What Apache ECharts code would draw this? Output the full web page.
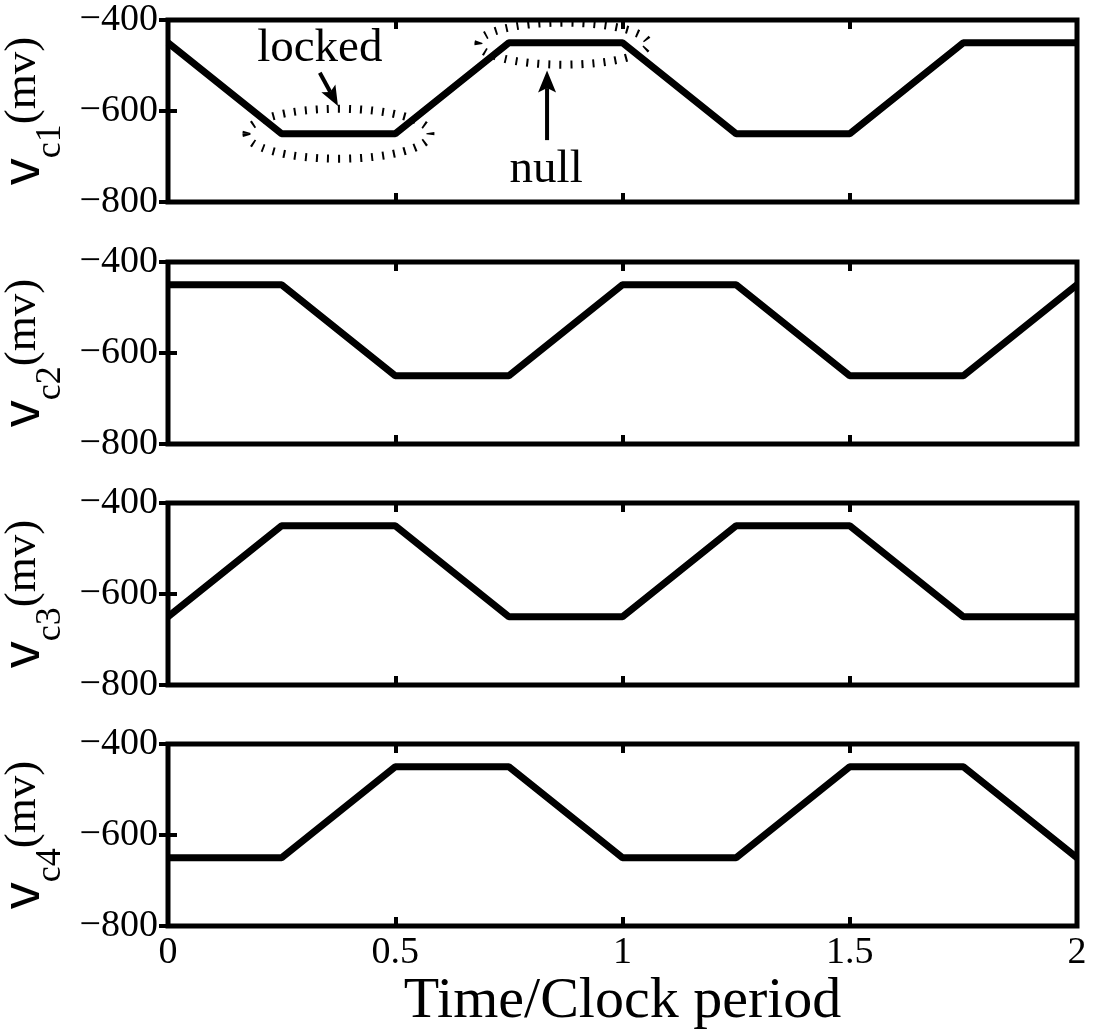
<!DOCTYPE html>
<html>
<head>
<meta charset="utf-8">
<script src="https://cdn.jsdelivr.net/npm/echarts@6/dist/echarts.min.js"></script>
<style>
  html, body { margin: 0; padding: 0; background: #fff; }
  #chart { width: 1093px; height: 1032px; }
</style>
</head>
<body>
<div id="chart"></div>
<script>
// Sample instants, in clock periods
const timePoints = [0, 0.25, 0.5, 0.75, 1, 1.25, 1.5, 1.75, 2];
// Clock-phase voltages (mV) at each instant
const vc1 = [-450, -650, -650, -450, -450, -650, -650, -450, -450];
const vc2 = [-450, -450, -650, -650, -450, -450, -650, -650, -450];
const vc3 = [-650, -450, -450, -650, -650, -450, -450, -650, -650];
const vc4 = [-650, -650, -450, -450, -650, -650, -450, -450, -650];
const phaseNames = ['c1', 'c2', 'c3', 'c4'];
// Axis ranges and tick steps
const timeRange = [0, 2];
const timeStep = 0.5;
const voltRange = [-800, -400];
const voltStep = 200;
// Annotation anchors on the first phase (time, mV)
const lockedText = [0.334, -462];
const lockedArrow = [[0.334, -516], [0.374, -589]];
const lockedRing = [0.375, -650];
const nullText = [0.832, -730];
const nullArrow = [[0.834, -664], [0.834, -511]];
const nullRing = [0.87, -452];

const phases = [vc1, vc2, vc3, vc4];
const serif = '"Liberation Serif", "Times New Roman", serif';
const gridTops = [20, 262, 503, 744];
const gridH = 182;
const minus = v => String(v).replace('-', '\u2212');

const grids = [], xAxes = [], yAxes = [], series = [];
phases.forEach((vals, i) => {
  grids.push({
    left: 168, width: 909, top: gridTops[i], height: gridH,
    containLabel: false, outerBoundsMode: 'none',
    show: true, borderColor: '#000', borderWidth: 5, backgroundColor: 'transparent'
  });
  const xCommon = {
    type: 'value', gridIndex: i, min: timeRange[0], max: timeRange[1], interval: timeStep,
    axisLine: { show: false }, splitLine: { show: false },
    axisTick: { show: true, inside: true, length: 9, lineStyle: { color: '#000', width: 4 } }
  };
  xAxes.push(Object.assign({}, xCommon, {
    position: 'bottom',
    axisLabel: {
      show: i === 3, color: '#000', fontFamily: serif, fontSize: 38, margin: 8
    },
    name: i === 3 ? 'Time/Clock period' : '',
    nameLocation: 'middle', nameGap: 42,
    nameTextStyle: { color: '#000', fontFamily: serif, fontSize: 58 }
  }));
  xAxes.push(Object.assign({}, xCommon, { position: 'top', axisLabel: { show: false } }));
  const yCommon = {
    type: 'value', gridIndex: i, min: voltRange[0], max: voltRange[1], interval: voltStep,
    axisLine: { show: false }, splitLine: { show: false },
    axisTick: { show: true, inside: true, length: 9, lineStyle: { color: '#000', width: 4 } }
  };
  yAxes.push(Object.assign({}, yCommon, {
    position: 'left',
    axisLabel: { color: '#000', fontFamily: serif, fontSize: 38, margin: 10, formatter: minus },
    name: '{v|v}{s|' + phaseNames[i] + '}{p|(mv)}',
    nameLocation: 'middle', nameRotate: 90, nameGap: 96,
    nameTextStyle: {
      color: '#000',
      rich: {
        v: { fontFamily: '"Liberation Sans", Arial, sans-serif', fontSize: 54, lineHeight: 90, color: '#000' },
        s: { fontFamily: serif, fontSize: 36, lineHeight: 34, verticalAlign: 'bottom', color: '#000' },
        p: { fontFamily: serif, fontSize: 45, lineHeight: 90, color: '#000' }
      }
    }
  }));
  yAxes.push(Object.assign({}, yCommon, { position: 'right', axisLabel: { show: false } }));
  series.push({
    type: 'line', xAxisIndex: i * 2, yAxisIndex: i * 2,
    data: timePoints.map((t, k) => [t, vals[k]]),
    symbol: 'none', lineStyle: { color: '#000', width: 7 }, z: 5
  });
});

const chart = echarts.init(document.getElementById('chart'));
chart.setOption({
  animation: false,
  backgroundColor: '#fff',
  grid: grids, xAxis: xAxes, yAxis: yAxes, series: series
});

// Annotations on the first panel, placed through the panel's own scales
const px = pt => chart.convertToPixel({ gridIndex: 0 }, pt);
function arrow(from, to, headLen, halfW) {
  const a = px(from), b = px(to);
  const dx = b[0] - a[0], dy = b[1] - a[1];
  const len = Math.hypot(dx, dy), ux = dx / len, uy = dy / len, nx = -uy, ny = ux;
  const base = [b[0] - ux * headLen, b[1] - uy * headLen];
  const notch = [b[0] - ux * headLen * 0.8, b[1] - uy * headLen * 0.8];
  return [
    { type: 'polyline', z: 20, shape: { points: [a, notch] }, style: { stroke: '#000', lineWidth: 4, fill: null } },
    { type: 'polygon', z: 20, shape: { points: [b, [base[0] + nx * halfW, base[1] + ny * halfW], notch, [base[0] - nx * halfW, base[1] - ny * halfW]] }, style: { fill: '#000' } }
  ];
}
function ring(center, rx, ry) {
  const c = px(center);
  return { type: 'ellipse', z: 20, shape: { cx: c[0], cy: c[1], rx: rx, ry: ry },
    style: { fill: null, stroke: '#000', lineWidth: 8, lineDash: [2, 9] } };
}
function label(pos, text) {
  const c = px(pos);
  return { type: 'text', z: 20, x: c[0], y: c[1],
    style: { text: text, fontFamily: serif, fontSize: 47, fill: '#000', align: 'center', verticalAlign: 'middle' } };
}
chart.setOption({
  graphic: [
    ring(lockedRing, 92, 25),
    ring(nullRing, 85, 21),
    label(lockedText, 'locked'),
    label(nullText, 'null'),
    ...arrow(lockedArrow[0], lockedArrow[1], 20, 8),
    ...arrow(nullArrow[0], nullArrow[1], 22, 9)
  ]
});
</script>
</body>
</html>
